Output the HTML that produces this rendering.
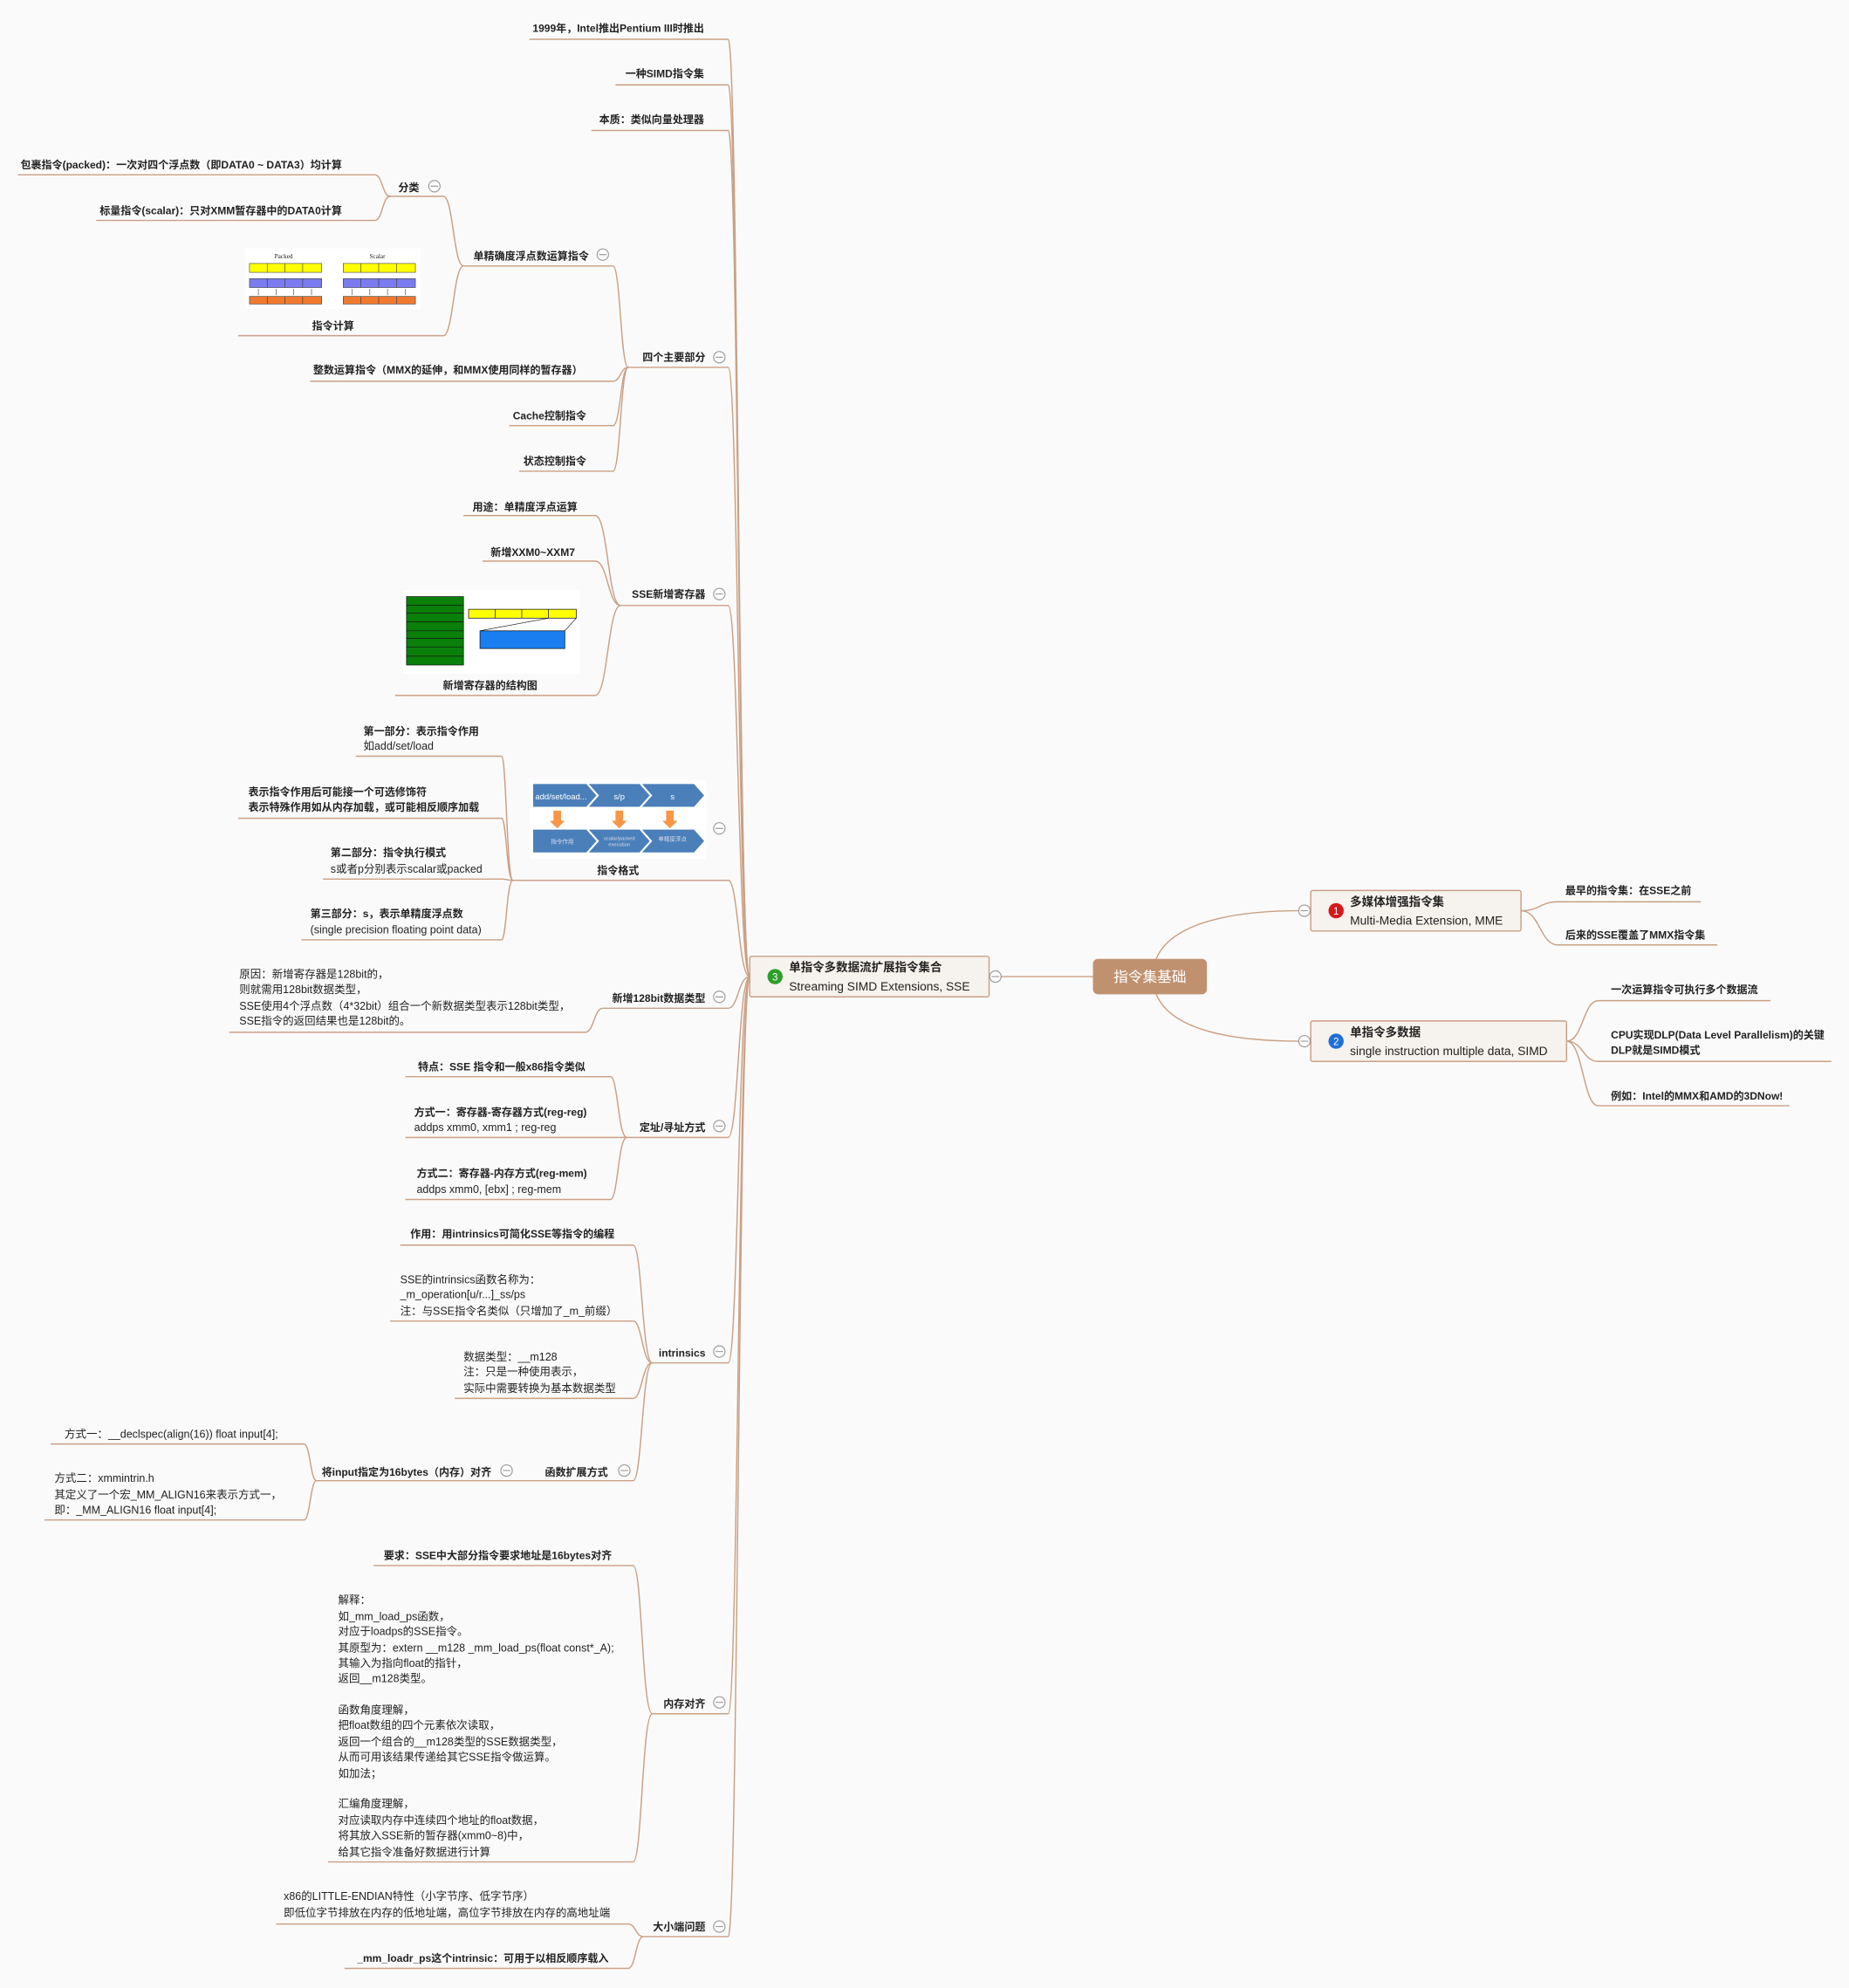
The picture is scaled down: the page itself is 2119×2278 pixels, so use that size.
<!DOCTYPE html>
<html><head><meta charset="utf-8"><style>
html,body{margin:0;padding:0;background:#fafafa;}
svg{display:block}
text{font-family:"Liberation Sans","Noto Sans CJK SC",sans-serif;font-size:8.6px;fill:#222;}
.b text{font-weight:bold;font-size:8.3px}
.c{fill:#fff;stroke:#9a9a9a;stroke-width:.8}
</style></head><body>
<svg width="2119" height="2278" viewBox="0 0 1460 1569.5" xmlns="http://www.w3.org/2000/svg">
<rect width="1460" height="1570" fill="#fafafa"/>
<g fill="none" stroke="#c9a085" stroke-width="1">
<path d="M592 771 C583 771 583 31 575 31 H418"/>
<path d="M592 771 C583 771 583 67 575 67 H486"/>
<path d="M592 771 C583 771 583 103 575 103 H467"/>
<path d="M592 771 C583 771 583 290 575 290 H496"/>
<path d="M592 771 C583 771 583 478 575 478 H490"/>
<path d="M592 771 C583 771 583 695 575 695 H405"/>
<path d="M592 771 C583 771 583 796 575 796 H476"/>
<path d="M592 771 C583 771 583 898 575 898 H495"/>
<path d="M592 771 C583 771 583 1076 575 1076 H515"/>
<path d="M592 771 C583 771 583 1353 575 1353 H515"/>
<path d="M592 771 C583 771 583 1529 575 1529 H508"/>
<path d="M496 290 C490 290 490 210 484 210 H366"/>
<path d="M496 290 C490 290 490 301 484 301 H245"/>
<path d="M496 290 C490 290 490 336 484 336 H402"/>
<path d="M496 290 C490 290 490 372 484 372 H410"/>
<path d="M366 210 C358 210 358 155 350 155 H308"/>
<path d="M366 210 C358 210 358 265 350 265 H188"/>
<path d="M308 155 C302 155 302 138 296 138 H14"/>
<path d="M308 155 C302 155 302 174 296 174 H76"/>
<path d="M490 478 C480 478 480 407 470 407 H366"/>
<path d="M490 478 C480 478 480 443 470 443 H381"/>
<path d="M490 478 C480 478 480 549 470 549 H312"/>
<path d="M405 695 C400 695 400 597 396 597 H281"/>
<path d="M405 695 C400 695 400 646 396 646 H188"/>
<path d="M405 695 C400 695 400 694 396 694 H255"/>
<path d="M405 695 C400 695 400 742 396 742 H238"/>
<path d="M476 796 C469 796 469 815 462 815 H181"/>
<path d="M495 898 C488 898 488 850 482 850 H320"/>
<path d="M495 898 C488 898 488 898 482 898 H320"/>
<path d="M495 898 C488 898 488 947 482 947 H320"/>
<path d="M515 1076 C507 1076 507 983 500 983 H316"/>
<path d="M515 1076 C507 1076 507 1043 500 1043 H308"/>
<path d="M515 1076 C507 1076 507 1104 500 1104 H359"/>
<path d="M515 1076 C507 1076 507 1169 500 1169 H425"/>
<path d="M425 1169 H250"/>
<path d="M250 1169 C245 1169 245 1140 240 1140 H40"/>
<path d="M250 1169 C245 1169 245 1200 240 1200 H35"/>
<path d="M515 1353 C507 1353 507 1236 500 1236 H295"/>
<path d="M515 1353 C507 1353 507 1470 500 1470 H259"/>
<path d="M508 1529 C502 1529 502 1519 496 1519 H218"/>
<path d="M508 1529 C502 1529 502 1554 496 1554 H272"/>
<path d="M790 771 H863"/>
<path d="M913 757 C925 728 975 719 1026 719"/>
<path d="M913 785 C925 814 975 822 1026 822"/>
<path d="M1201 719 C1216 719 1216 712 1230 712 H1343"/>
<path d="M1201 719 C1216 719 1216 746 1230 746 H1356"/>
<path d="M1237 822 C1250 822 1250 790 1262 790 H1398"/>
<path d="M1237 822 C1250 822 1250 838 1262 838 H1446"/>
<path d="M1237 822 C1250 822 1250 873 1262 873 H1413"/>
</g>

<rect x="863" y="757" width="90" height="28" rx="4" fill="#c0916f"/>
<text x="908" y="775" text-anchor="middle" style="font-size:11.5px;fill:#fff">指令集基础</text>
<rect x="592" y="755" width="189" height="32" rx="1.5" fill="#f6f2ed" stroke="#c9a085"/>
<circle cx="612" cy="771" r="6" fill="#2e9e2a"/><text x="612" y="774" text-anchor="middle" style="font-size:8px;fill:#fff">3</text>
<text x="623" y="767" style="font-size:9.3px;font-weight:bold">单指令多数据流扩展指令集合</text>
<text x="623" y="782" style="font-size:9.5px">Streaming SIMD Extensions, SSE</text>
<rect x="1035" y="703" width="166" height="32" rx="1.5" fill="#f6f2ed" stroke="#c9a085"/>
<circle cx="1055" cy="719" r="6" fill="#d7191c"/><text x="1055" y="722" text-anchor="middle" style="font-size:8px;fill:#fff">1</text>
<text x="1066" y="715" style="font-size:9.3px;font-weight:bold">多媒体增强指令集</text>
<text x="1066" y="730" style="font-size:9.5px">Multi-Media Extension, MME</text>
<rect x="1035" y="806" width="202" height="32" rx="1.5" fill="#f6f2ed" stroke="#c9a085"/>
<circle cx="1055" cy="822" r="6" fill="#1f6fd6"/><text x="1055" y="825" text-anchor="middle" style="font-size:8px;fill:#fff">2</text>
<text x="1066" y="818" style="font-size:9.3px;font-weight:bold">单指令多数据</text>
<text x="1066" y="833" style="font-size:9.5px">single instruction multiple data, SIMD</text>

<g class="b">
<text x="1236" y="706">最早的指令集：在SSE之前</text>
<text x="1236" y="741">后来的SSE覆盖了MMX指令集</text>
<text x="1272" y="784">一次运算指令可执行多个数据流</text>
<text x="1272" y="820">CPU实现DLP(Data Level Parallelism)的关键</text>
<text x="1272" y="832">DLP就是SIMD模式</text>
<text x="1272" y="868">例如：Intel的MMX和AMD的3DNow!</text>

<text x="556" y="25" text-anchor="end">1999年，Intel推出Pentium III时推出</text>
<text x="556" y="61" text-anchor="end">一种SIMD指令集</text>
<text x="556" y="97" text-anchor="end">本质：类似向量处理器</text>
<text x="557" y="285" text-anchor="end">四个主要部分</text>
<text x="557" y="472" text-anchor="end">SSE新增寄存器</text>
<text x="488" y="690" text-anchor="middle">指令格式</text>
<text x="557" y="791" text-anchor="end">新增128bit数据类型</text>
<text x="557" y="893" text-anchor="end">定址/寻址方式</text>
<text x="557" y="1071" text-anchor="end">intrinsics</text>
<text x="557" y="1348" text-anchor="end">内存对齐</text>
<text x="557" y="1524" text-anchor="end">大小端问题</text>

<text x="465" y="205" text-anchor="end">单精确度浮点数运算指令</text>
<text x="460" y="295" text-anchor="end">整数运算指令（MMX的延伸，和MMX使用同样的暂存器）</text>
<text x="463" y="331" text-anchor="end">Cache控制指令</text>
<text x="463" y="367" text-anchor="end">状态控制指令</text>
<text x="331" y="151" text-anchor="end">分类</text>
<text x="263" y="260" text-anchor="middle">指令计算</text>
<text x="270" y="133" text-anchor="end">包裹指令(packed)：一次对四个浮点数（即DATA0 ~ DATA3）均计算</text>
<text x="270" y="169" text-anchor="end">标量指令(scalar)：只对XMM暂存器中的DATA0计算</text>

<text x="456" y="403" text-anchor="end">用途：单精度浮点运算</text>
<text x="454" y="439" text-anchor="end">新增XXM0~XXM7</text>
<text x="387" y="544" text-anchor="middle">新增寄存器的结构图</text>

<text x="287" y="580">第一部分：表示指令作用</text>
<text x="196" y="628">表示指令作用后可能接一个可选修饰符</text>
<text x="196" y="640">表示特殊作用如从内存加载，或可能相反顺序加载</text>
<text x="261" y="676">第二部分：指令执行模式</text>
<text x="245" y="724">第三部分：s，表示单精度浮点数</text>

<text x="330" y="845">特点：SSE 指令和一般x86指令类似</text>
<text x="327" y="881">方式一：寄存器-寄存器方式(reg-reg)</text>
<text x="329" y="929">方式二：寄存器-内存方式(reg-mem)</text>
<text x="324" y="977">作用：用intrinsics可简化SSE等指令的编程</text>
<text x="480" y="1165" text-anchor="end">函数扩展方式</text>
<text x="388" y="1165" text-anchor="end">将input指定为16bytes（内存）对齐</text>
<text x="303" y="1231">要求：SSE中大部分指令要求地址是16bytes对齐</text>
<text x="282" y="1549">_mm_loadr_ps这个intrinsic：可用于以相反顺序载入</text>
</g>
<g>
<text x="287" y="592">如add/set/load</text>
<text x="261" y="689">s或者p分别表示scalar或packed</text>
<text x="245" y="737">(single precision floating point data)</text>
<text x="189" y="772">原因：新增寄存器是128bit的，</text>
<text x="189" y="784">则就需用128bit数据类型，</text>
<text x="189" y="797">SSE使用4个浮点数（4*32bit）组合一个新数据类型表示128bit类型，</text>
<text x="189" y="809">SSE指令的返回结果也是128bit的。</text>
<text x="327" y="893">addps xmm0, xmm1 ; reg-reg</text>
<text x="329" y="942">addps xmm0, [ebx] ; reg-mem</text>
<text x="316" y="1013">SSE的intrinsics函数名称为：</text>
<text x="316" y="1025">_m_operation[u/r...]_ss/ps</text>
<text x="316" y="1038">注：与SSE指令名类似（只增加了_m_前缀）</text>
<text x="366" y="1074">数据类型：__m128</text>
<text x="366" y="1086">注：只是一种使用表示，</text>
<text x="366" y="1099">实际中需要转换为基本数据类型</text>
<text x="51" y="1135">方式一：__declspec(align(16)) float input[4];</text>
<text x="43" y="1170">方式二：xmmintrin.h</text>
<text x="43" y="1183">其定义了一个宏_MM_ALIGN16来表示方式一，</text>
<text x="43" y="1195">即：_MM_ALIGN16 float input[4];</text>
<text x="267" y="1266">解释：</text>
<text x="267" y="1279">如_mm_load_ps函数，</text>
<text x="267" y="1291">对应于loadps的SSE指令。</text>
<text x="267" y="1304">其原型为：extern __m128 _mm_load_ps(float const*_A);</text>
<text x="267" y="1316">其输入为指向float的指针，</text>
<text x="267" y="1328">返回__m128类型。</text>
<text x="267" y="1353">函数角度理解，</text>
<text x="267" y="1365">把float数组的四个元素依次读取，</text>
<text x="267" y="1378">返回一个组合的__m128类型的SSE数据类型，</text>
<text x="267" y="1390">从而可用该结果传递给其它SSE指令做运算。</text>
<text x="267" y="1403">如加法；</text>
<text x="267" y="1427">汇编角度理解，</text>
<text x="267" y="1440">对应读取内存中连续四个地址的float数据，</text>
<text x="267" y="1452">将其放入SSE新的暂存器(xmm0~8)中，</text>
<text x="267" y="1465">给其它指令准备好数据进行计算</text>
<text x="224" y="1500">x86的LITTLE-ENDIAN特性（小字节序、低字节序）</text>
<text x="224" y="1513">即低位字节排放在内存的低地址端，高位字节排放在内存的高地址端</text>
</g>

<g>
<circle class="c" cx="786" cy="771" r="4.5"/><circle class="c" cx="1030" cy="719" r="4.5"/><circle class="c" cx="1030" cy="822" r="4.5"/>
<circle class="c" cx="568" cy="282" r="4.5"/><circle class="c" cx="568" cy="469" r="4.5"/><circle class="c" cx="568" cy="654" r="4.5"/>
<circle class="c" cx="568" cy="787" r="4.5"/><circle class="c" cx="568" cy="889" r="4.5"/><circle class="c" cx="568" cy="1067" r="4.5"/>
<circle class="c" cx="568" cy="1344" r="4.5"/><circle class="c" cx="568" cy="1521" r="4.5"/><circle class="c" cx="476" cy="201" r="4.5"/>
<circle class="c" cx="343" cy="147" r="4.5"/><circle class="c" cx="493" cy="1161" r="4.5"/><circle class="c" cx="400" cy="1161" r="4.5"/>
</g>
<g stroke="#9a9a9a" stroke-width=".8">
<path d="M783 771h6M1027 719h6M1027 822h6M565 282h6M565 469h6M565 654h6M565 787h6M565 889h6M565 1067h6M565 1344h6M565 1521h6M473 201h6M340 147h6M490 1161h6M397 1161h6"/>
</g>

<rect x="194" y="196" width="138" height="48" fill="#fff"/>
<text x="224" y="204" text-anchor="middle" style="font-size:5px;font-family:'Liberation Serif',serif">Packed</text>
<text x="298" y="204" text-anchor="middle" style="font-size:5px;font-family:'Liberation Serif',serif">Scalar</text>
<g stroke="#333" stroke-width=".4">
<rect x="197" y="208" width="57" height="7" fill="#ffff00"/><rect x="271" y="208" width="57" height="7" fill="#ffff00"/>
<rect x="197" y="220" width="57" height="7" fill="#7b7bef"/><rect x="271" y="220" width="57" height="7" fill="#7b7bef"/>
<rect x="197" y="234" width="57" height="6" fill="#f07a30"/><rect x="271" y="234" width="57" height="6" fill="#f07a30"/>
<path d="M211 208v7M225 208v7M239 208v7M285 208v7M299 208v7M313 208v7M211 220v7M225 220v7M239 220v7M285 220v7M299 220v7M313 220v7M211 234v6M225 234v6M239 234v6M285 234v6M299 234v6M313 234v6"/>
<path d="M204 228v5M218 228v5M232 228v5M246 228v5M278 228v5M292 228v5M306 228v5M320 228v5"/>
</g>
<rect x="318" y="466" width="140" height="66" fill="#fff"/>
<rect x="321" y="471" width="45" height="54" fill="#0a800a" stroke="#111" stroke-width=".5"/>
<path d="M321 478h45M321 484h45M321 491h45M321 498h45M321 504h45M321 511h45M321 518h45" stroke="#111" stroke-width=".5"/>
<rect x="370" y="481" width="85" height="7" fill="#ffff00" stroke="#111" stroke-width=".5"/>
<path d="M391 481v7M412 481v7M433 481v7M379 498L433 488M446 498L455 488" stroke="#111" stroke-width=".5"/>
<rect x="379" y="498" width="67" height="14" fill="#1a7ef0" stroke="#111" stroke-width=".5"/>
<rect x="418" y="616" width="140" height="62" fill="#fff"/>
<g fill="#4a7fb9">
<path d="M421 619H463L471 628L463 637H421Z"/><path d="M465 619H505L513 628L505 637H465L473 628Z"/><path d="M507 619H548L556 628L548 637H507L515 628Z"/>
<path d="M421 655H463L471 664L463 673H421Z"/><path d="M465 655H505L513 664L505 673H465L473 664Z"/><path d="M507 655H548L556 664L548 673H507L515 664Z"/>
</g>
<text x="443" y="631" text-anchor="middle" style="font-size:6.5px;fill:#fff">add/set/load...</text>
<text x="489" y="631" text-anchor="middle" style="font-size:6.5px;fill:#fff">s/p</text>
<text x="531" y="631" text-anchor="middle" style="font-size:6.5px;fill:#fff">s</text>
<text x="444" y="666" text-anchor="middle" style="font-size:4.5px;fill:#dde">指令作用</text>
<text x="489" y="663" text-anchor="middle" style="font-size:4px;fill:#dde">scalar/packed</text>
<text x="489" y="668" text-anchor="middle" style="font-size:4px;fill:#dde">execution</text>
<text x="531" y="664" text-anchor="middle" style="font-size:4.5px;fill:#dde">单精度浮点</text>
<g fill="#f79646"><path d="M437 640h6v8h3l-6 6l-6-6h3Z"/><path d="M486 640h6v8h3l-6 6l-6-6h3Z"/><path d="M526 640h6v8h3l-6 6l-6-6h3Z"/></g>
</svg>
</body></html>
